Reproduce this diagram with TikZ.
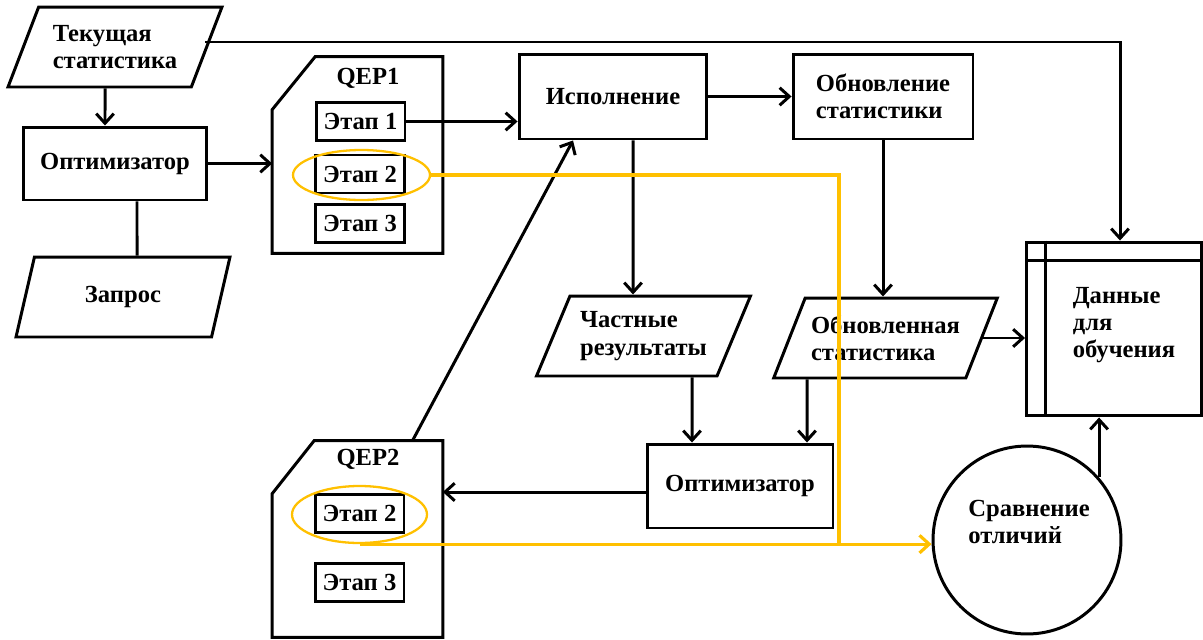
\documentclass[tikz,border=0pt]{standalone}
\usepackage{fontspec}
\setmainfont{Liberation Serif}
\usetikzlibrary{arrows.meta, calc, shapes.geometric}
\definecolor{MyYellow}{HTML}{FFC000}
\tikzset{
	every node/.style={font=\fontsize{14}{15.5}\selectfont\bfseries},
	box/.style={draw, line width=1.7pt},
	stage/.style={draw, line width=1.7pt, minimum width=1.78cm, minimum height=0.76cm, inner sep=0pt},
	iodata/.style={trapezium, trapezium left angle=61, trapezium right angle=119, trapezium stretches body, draw, line width=1.7pt, minimum width=4.28cm, minimum height=1.6cm, align=left},
	plan/.style={minimum width=3.4cm, minimum height=3.92cm},
	conn/.style={line width=1.7pt},
	arr/.style={line width=1.7pt, -{Straight Barb[length=5.5pt,width=10pt]}},
	hlring/.style={ellipse, draw=MyYellow, line width=1.3pt},
	hlline/.style={draw=MyYellow, line width=1.8pt}
}

\begin{document}
\begin{tikzpicture}[x=0.02cm, y=-0.02cm]
	\useasboundingbox (0,0) rectangle (1203,639);
	
	\node[iodata] (tek) at (115,47) {Текущая\\статистика};
	\node[box, minimum width=3.68cm, minimum height=1.46cm] (opt1) at (115,163.5) {Оптимизатор};
	\node[iodata] (zap) at (123,297) {Запрос};
	
	% first plan
	\node[plan] (q1) at (357.5,155) {};
	\draw[conn] ($(q1.north west)+(0,53)$) -- ($(q1.north west)+(43,0)$) -- (q1.north east) -- (q1.south east) -- (q1.south west) -- cycle;
	\node (q1lab) at (368,78) {QEP1};
	\node[stage] (e11) at (360.5,121.5) {Этап 1};
	\node[stage] (e12) at (360,174) {Этап 2};
	\node[stage] (e13) at (360,223.5) {Этап 3};
	\node[hlring, minimum width=2.74cm, minimum height=1cm] (oe1) at (361.5,175) {};
	
	% second plan
	\node[plan] (q2) at (357.5,539) {};
	\draw[conn] ($(q2.north west)+(0,53)$) -- ($(q2.north west)+(42,0)$) -- (q2.north east) -- (q2.south east) -- (q2.south west) -- cycle;
	\node (q2lab) at (368,459) {QEP2};
	\node[stage] (e22) at (359.5,513.5) {Этап 2};
	\node[stage] (e23) at (359.5,582.5) {Этап 3};
	\node[hlring, minimum width=2.7cm, minimum height=1.14cm] (oe2) at (359.5,514.5) {};
	
	\node[box, minimum width=3.76cm, minimum height=1.7cm] (exec) at (613,96.5) {Исполнение};
	\node[box, minimum width=3.6cm, minimum height=1.7cm, align=left] (upd) at (883,96.5) {Обновление\\статистики};
	\node[iodata] (part) at (643.5,336) {Частные\\результаты};
	\node[iodata] (ustat) at (885.5,338) {Обновленная\\статистика};
	\node[box, minimum width=3.72cm, minimum height=1.68cm] (opt2) at (740,486) {Оптимизатор};
	
	\node[box, minimum width=3.5cm, minimum height=3.48cm] (data) at (1114,329) {};
	\draw[conn] ($(data.north west)+(20,0)$) -- ($(data.south west)+(20,0)$);
	\draw[conn] ($(data.north west)+(0,20)$) -- ($(data.north east)+(0,20)$);
	\node[align=left] (dtxt) at (1124,325) {Данные\\для\\обучения};
	
	\node[circle, draw, line width=1.7pt, minimum size=3.76cm] (cmp) at (1027,540) {};
	\node[align=left] (ctxt) at (1029,522) {Сравнение\\отличий};
	
	\draw[arr] ($(tek.south)+(-10,0)$) -- ($(opt1.north)+(-10,0)$);
	\draw[conn] ($(opt1.south)+(22,0)$) -- ($(zap.north)+(14,0)$);
	\draw[arr] ($(tek.east)+(-3,-5)$) -| ($(data.north)+(6,0)$);
	\draw[arr] (opt1.east) -- (opt1.east -| q1.west);
	\draw[arr] (e11.east) -- (e11.east -| exec.west);
	\draw[arr] (exec.east) -- (exec.east -| upd.west);
	\draw[arr] ($(exec.south)+(20,0)$) -- ($(part.north)+(-10.5,0)$);
	\draw[arr] (upd.south) -- (upd.south |- ustat.north);
	\draw[arr] (ustat.east) -- (ustat.east -| data.west);
	\draw[arr] ($(part.south)+(48.5,0)$) -- ($(opt2.north)+(-48,0)$);
	\draw[arr] ($(ustat.south)+(-78.5,0)$) -- ($(opt2.north)+(67,0)$);
	\coordinate (o2l) at ($(opt2.west)+(0,6)$);
	\draw[arr] (o2l) -- (o2l -| q2.east);
	\draw[arr] ($(q2.north)+(55,0)$) -- ($(exec.south)+(-40,0)$);
	\draw[arr] (cmp.41) -- (cmp.41 |- data.south);
	
	% highlighted stage
	\coordinate (jn) at (839,543);
	\draw[hlline] (oe1.east) -| (jn);
	\draw[arr, hlline] (oe2.south) -- (oe2.south -| cmp.west);
\end{tikzpicture}
\end{document}
